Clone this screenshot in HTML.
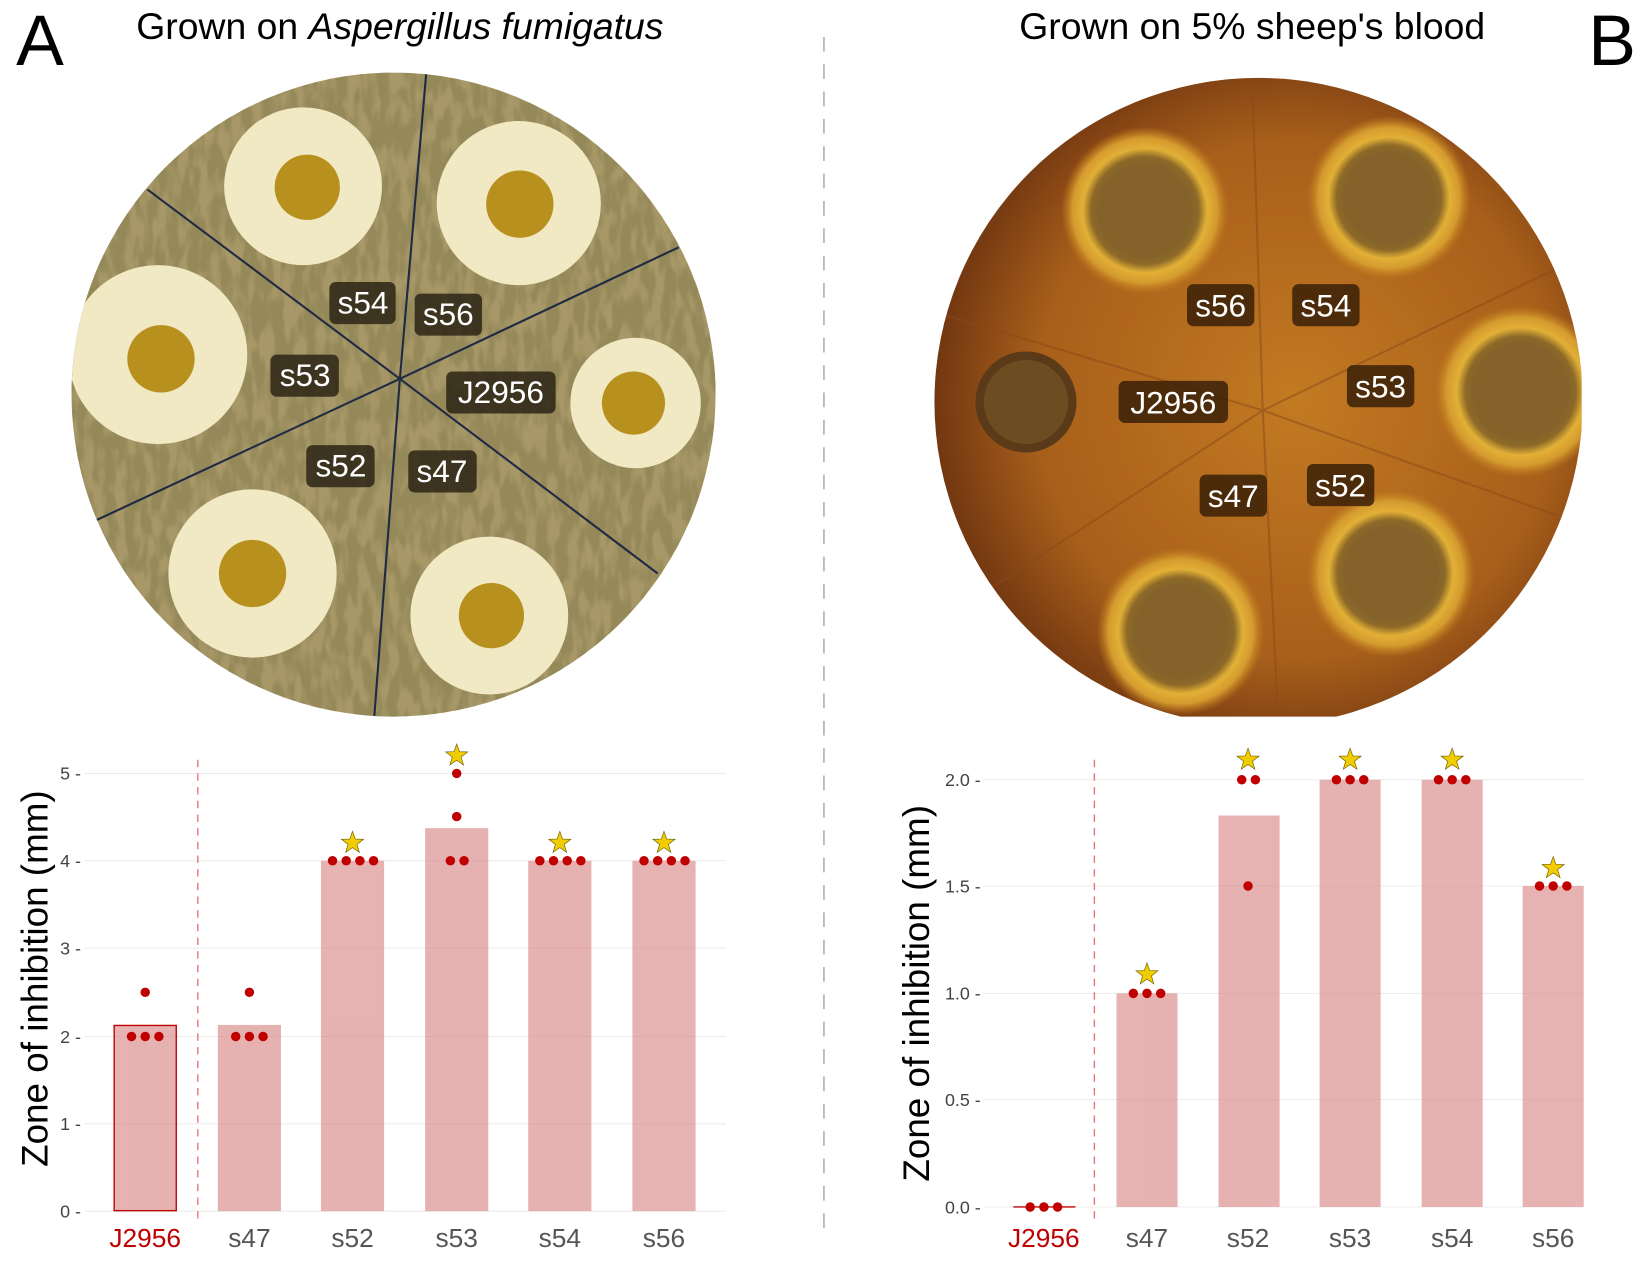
<!DOCTYPE html>
<html><head><meta charset="utf-8">
<style>html,body{margin:0;padding:0;background:#fff}svg{display:block}</style></head>
<body>
<svg width="1650" height="1268" viewBox="0 0 1568 1205" preserveAspectRatio="none" xmlns="http://www.w3.org/2000/svg" font-family="Liberation Sans, Arial, sans-serif">
<defs>
<filter id="tex" x="0" y="0" width="100%" height="100%">
<feTurbulence type="fractalNoise" baseFrequency="0.1 0.035" numOctaves="2" seed="3" result="n"/>
<feColorMatrix in="n" type="matrix" values="0 0 0 0 0.30  0 0 0 0 0.25  0 0 0 0 0.10  0 0 0 -4.5 2.9"/>
</filter>
<clipPath id="cA"><circle cx="374" cy="375" r="306"/></clipPath>
<clipPath id="cB"><circle cx="1196" cy="382" r="308"/></clipPath>
<clipPath id="cBr"><rect x="880" y="60" width="623" height="621"/></clipPath>
<radialGradient id="gB" cx="0.55" cy="0.5" r="0.55">
<stop offset="0" stop-color="#c27a22"/><stop offset="0.7" stop-color="#a85f1a"/><stop offset="1" stop-color="#6e3410"/></radialGradient>
<radialGradient id="ring" cx="0.5" cy="0.5" r="0.5">
<stop offset="0.55" stop-color="#84622a"/><stop offset="0.64" stop-color="#8e6a28"/><stop offset="0.74" stop-color="#e2b036"/><stop offset="0.86" stop-color="#d49a2e"/><stop offset="1" stop-color="#c07a1d" stop-opacity="0"/></radialGradient>
<g id="star"><polygon points="0,-11 2.6,-3.6 10.5,-3.4 4.2,1.4 6.5,9 0,4.5 -6.5,9 -4.2,1.4 -10.5,-3.4 -2.6,-3.6" fill="#f0cc00" stroke="#6b5a00" stroke-width="0.6"/></g>
</defs>

<text x="38" y="62" font-size="68" text-anchor="middle">A</text>
<text x="1532" y="62" font-size="68" text-anchor="middle">B</text>
<text x="380" y="37" font-size="35.5" text-anchor="middle">Grown on <tspan font-style="italic">Aspergillus fumigatus</tspan></text>
<text x="1190" y="37" font-size="35.5" text-anchor="middle">Grown on 5% sheep's blood</text>
<line x1="783" y1="35" x2="783" y2="1172" stroke="#999" stroke-width="1.2" stroke-dasharray="14,12"/>

<g clip-path="url(#cA)">
<rect x="60" y="60" width="630" height="630" fill="#a89868"/>
<rect x="60" y="60" width="630" height="630" filter="url(#tex)"/>
<g fill="#f0e9c4">
<circle cx="288" cy="177" r="75"/><circle cx="493" cy="193" r="78"/><circle cx="150" cy="337" r="85"/>
<circle cx="604" cy="383" r="62"/><circle cx="240" cy="545" r="80"/><circle cx="465" cy="585" r="75"/></g>
<g fill="#b8901e">
<circle cx="292" cy="178" r="31"/><circle cx="494" cy="194" r="32"/><circle cx="153" cy="341" r="32"/>
<circle cx="602" cy="383" r="30"/><circle cx="240" cy="545" r="32"/><circle cx="467" cy="585" r="31"/></g>
<g stroke="#1f2a44" stroke-width="2">
<line x1="380" y1="360" x2="405" y2="70"/><line x1="380" y1="360" x2="140" y2="180"/>
<line x1="380" y1="360" x2="645" y2="235"/><line x1="380" y1="360" x2="90" y2="495"/>
<line x1="380" y1="360" x2="625" y2="545"/><line x1="380" y1="360" x2="355" y2="690"/></g>
</g>
<g font-size="30" fill="#fff" text-anchor="middle">
<rect x="313" y="268" width="63" height="40" rx="6" fill="#2b2415" opacity="0.85"/><text x="345" y="298">s54</text>
<rect x="394" y="279" width="64" height="40" rx="6" fill="#2b2415" opacity="0.85"/><text x="426" y="309">s56</text>
<rect x="257" y="337" width="65" height="40" rx="6" fill="#2b2415" opacity="0.85"/><text x="290" y="367">s53</text>
<rect x="424" y="353" width="104" height="40" rx="6" fill="#2b2415" opacity="0.85"/><text x="476" y="383">J2956</text>
<rect x="291" y="423" width="65" height="40" rx="6" fill="#2b2415" opacity="0.85"/><text x="324" y="453">s52</text>
<rect x="388" y="428" width="65" height="40" rx="6" fill="#2b2415" opacity="0.85"/><text x="420" y="458">s47</text>
</g>

<g clip-path="url(#cBr)"><g clip-path="url(#cB)">
<rect x="880" y="60" width="640" height="640" fill="url(#gB)"/>
<circle cx="1088" cy="200" r="80" fill="url(#ring)"/><circle cx="1320" cy="188" r="78" fill="url(#ring)"/>
<circle cx="1445" cy="372" r="82" fill="url(#ring)"/><circle cx="1322" cy="545" r="80" fill="url(#ring)"/>
<circle cx="1122" cy="600" r="80" fill="url(#ring)"/>
<circle cx="975" cy="382" r="48" fill="#5a3a18"/><circle cx="975" cy="382" r="40" fill="#6e4c22"/>
<g stroke="#8a4a18" stroke-width="2" opacity="0.5">
<line x1="1200" y1="390" x2="1190" y2="75"/><line x1="1200" y1="390" x2="900" y2="300"/>
<line x1="1200" y1="390" x2="1490" y2="250"/><line x1="1200" y1="390" x2="940" y2="560"/>
<line x1="1200" y1="390" x2="1480" y2="490"/><line x1="1200" y1="390" x2="1215" y2="690"/></g>
</g></g>
<g font-size="30" fill="#fff" text-anchor="middle">
<rect x="1128" y="270" width="64" height="40" rx="6" fill="#3a2008" opacity="0.85"/><text x="1160" y="301">s56</text>
<rect x="1228" y="270" width="64" height="40" rx="6" fill="#3a2008" opacity="0.85"/><text x="1260" y="301">s54</text>
<rect x="1063" y="362" width="104" height="40" rx="6" fill="#3a2008" opacity="0.85"/><text x="1115" y="393">J2956</text>
<rect x="1280" y="347" width="64" height="40" rx="6" fill="#3a2008" opacity="0.85"/><text x="1312" y="378">s53</text>
<rect x="1140" y="451" width="64" height="40" rx="6" fill="#3a2008" opacity="0.85"/><text x="1172" y="482">s47</text>
<rect x="1242" y="441" width="64" height="40" rx="6" fill="#3a2008" opacity="0.85"/><text x="1274" y="472">s52</text>
</g>

<g stroke="#ececec" stroke-width="1">
<line x1="80" y1="735" x2="690" y2="735"/><line x1="80" y1="818" x2="690" y2="818"/><line x1="80" y1="901" x2="690" y2="901"/>
<line x1="80" y1="985" x2="690" y2="985"/><line x1="80" y1="1068" x2="690" y2="1068"/><line x1="80" y1="1151" x2="690" y2="1151"/></g>
<g font-size="17" fill="#444" text-anchor="end">
<text x="77" y="741">5 -</text><text x="77" y="824">4 -</text><text x="77" y="907">3 -</text>
<text x="77" y="991">2 -</text><text x="77" y="1074">1 -</text><text x="77" y="1157">0 -</text></g>
<text transform="translate(45,930) rotate(-90)" font-size="35" text-anchor="middle">Zone of inhibition (mm)</text>
<g fill="#d98888" opacity="0.65">
<rect x="108" y="974" width="60" height="177"/><rect x="207" y="974" width="60" height="177"/>
<rect x="305" y="818" width="60" height="333"/><rect x="404" y="787" width="60" height="364"/>
<rect x="502" y="818" width="60" height="333"/><rect x="601" y="818" width="60" height="333"/></g>
<rect x="108.5" y="974.5" width="59" height="176" fill="none" stroke="#c00000" stroke-width="1.3"/>
<line x1="188" y1="722" x2="188" y2="1160" stroke="#e57373" stroke-width="1.3" stroke-dasharray="7,6"/>
<g fill="#c00000">
<circle cx="125" cy="985" r="4.5"/><circle cx="138" cy="985" r="4.5"/><circle cx="151" cy="985" r="4.5"/><circle cx="138" cy="943" r="4.5"/>
<circle cx="224" cy="985" r="4.5"/><circle cx="237" cy="985" r="4.5"/><circle cx="250" cy="985" r="4.5"/><circle cx="237" cy="943" r="4.5"/>
<circle cx="316" cy="818" r="4.5"/><circle cx="329" cy="818" r="4.5"/><circle cx="342" cy="818" r="4.5"/><circle cx="355" cy="818" r="4.5"/>
<circle cx="428" cy="818" r="4.5"/><circle cx="441" cy="818" r="4.5"/><circle cx="434" cy="776" r="4.5"/><circle cx="434" cy="735" r="4.5"/>
<circle cx="513" cy="818" r="4.5"/><circle cx="526" cy="818" r="4.5"/><circle cx="539" cy="818" r="4.5"/><circle cx="552" cy="818" r="4.5"/>
<circle cx="612" cy="818" r="4.5"/><circle cx="625" cy="818" r="4.5"/><circle cx="638" cy="818" r="4.5"/><circle cx="651" cy="818" r="4.5"/></g>
<use href="#star" x="335" y="801"/><use href="#star" x="434" y="718"/><use href="#star" x="532" y="801"/><use href="#star" x="631" y="801"/>
<g font-size="25" fill="#555" text-anchor="middle">
<text x="138" y="1185" fill="#c00000">J2956</text><text x="237" y="1185">s47</text><text x="335" y="1185">s52</text>
<text x="434" y="1185">s53</text><text x="532" y="1185">s54</text><text x="631" y="1185">s56</text></g>

<g stroke="#ececec" stroke-width="1">
<line x1="934" y1="741" x2="1505" y2="741"/><line x1="934" y1="842" x2="1505" y2="842"/><line x1="934" y1="944" x2="1505" y2="944"/>
<line x1="934" y1="1045" x2="1505" y2="1045"/><line x1="934" y1="1147" x2="1505" y2="1147"/></g>
<g font-size="17" fill="#444" text-anchor="end">
<text x="932" y="747">2.0 -</text><text x="932" y="848">1.5 -</text><text x="932" y="950">1.0 -</text>
<text x="932" y="1051">0.5 -</text><text x="932" y="1153">0.0 -</text></g>
<text transform="translate(883,944) rotate(-90)" font-size="35" text-anchor="middle">Zone of inhibition (mm)</text>
<g fill="#d98888" opacity="0.65">
<rect x="1061" y="944" width="58" height="203"/><rect x="1158" y="775" width="58" height="372"/>
<rect x="1254" y="741" width="58" height="406"/><rect x="1351" y="741" width="58" height="406"/>
<rect x="1447" y="842" width="58" height="305"/></g>
<line x1="963" y1="1147" x2="1022" y2="1147" stroke="#c00000" stroke-width="1.3"/>
<line x1="1040" y1="722" x2="1040" y2="1160" stroke="#e57373" stroke-width="1.3" stroke-dasharray="7,6"/>
<g fill="#c00000">
<circle cx="979" cy="1147" r="4.5"/><circle cx="992" cy="1147" r="4.5"/><circle cx="1005" cy="1147" r="4.5"/>
<circle cx="1077" cy="944" r="4.5"/><circle cx="1090" cy="944" r="4.5"/><circle cx="1103" cy="944" r="4.5"/>
<circle cx="1180" cy="741" r="4.5"/><circle cx="1193" cy="741" r="4.5"/><circle cx="1186" cy="842" r="4.5"/>
<circle cx="1270" cy="741" r="4.5"/><circle cx="1283" cy="741" r="4.5"/><circle cx="1296" cy="741" r="4.5"/>
<circle cx="1367" cy="741" r="4.5"/><circle cx="1380" cy="741" r="4.5"/><circle cx="1393" cy="741" r="4.5"/>
<circle cx="1463" cy="842" r="4.5"/><circle cx="1476" cy="842" r="4.5"/><circle cx="1489" cy="842" r="4.5"/></g>
<use href="#star" x="1090" y="926"/><use href="#star" x="1186" y="722"/><use href="#star" x="1283" y="722"/>
<use href="#star" x="1380" y="722"/><use href="#star" x="1476" y="825"/>
<g font-size="25" fill="#555" text-anchor="middle">
<text x="992" y="1185" fill="#c00000">J2956</text><text x="1090" y="1185">s47</text><text x="1186" y="1185">s52</text>
<text x="1283" y="1185">s53</text><text x="1380" y="1185">s54</text><text x="1476" y="1185">s56</text></g>
</svg>
</body></html>
